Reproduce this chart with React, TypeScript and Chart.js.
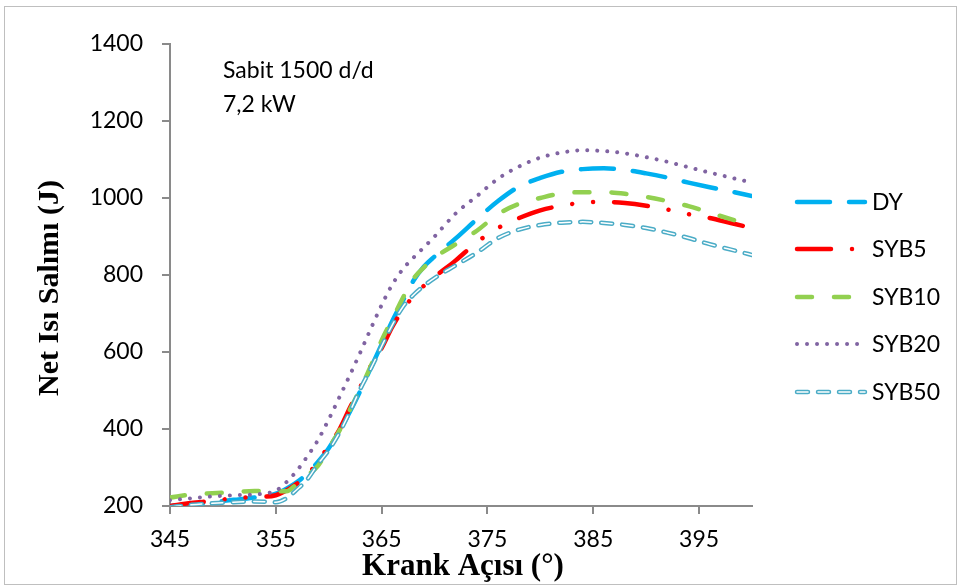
import React, { useEffect, useRef } from "react";
import { Chart, registerables } from "chart.js";

Chart.register(...registerables);

// Crank angle (°)
const angles = [345, 347, 349, 351, 353, 355, 356, 357, 358, 359, 360, 361, 362, 363, 364, 365, 366, 367, 368, 369, 370, 372, 374, 376, 378, 380, 382, 384, 386, 388, 390, 392, 394, 396, 398, 400];

const dyValues = [200, 204, 210, 216, 222, 232, 245, 262, 285, 315, 350, 395, 445, 500, 560, 620, 680, 733, 785, 822, 848, 895, 945, 992, 1030, 1052, 1068, 1075, 1077, 1073, 1064, 1053, 1040, 1028, 1017, 1005];
const syb5Values = [200, 208, 213, 220, 223, 228, 240, 258, 280, 318, 355, 398, 455, 510, 565, 610, 665, 710, 745, 772, 795, 838, 885, 922, 948, 968, 980, 988, 990, 987, 980, 970, 958, 948, 935, 922];
const syb10Values = [222, 230, 233, 236, 239, 238, 238, 258, 280, 305, 350, 395, 450, 505, 565, 630, 685, 740, 790, 820, 845, 880, 915, 958, 985, 1000, 1012, 1015, 1015, 1011, 1003, 992, 979, 962, 945, 928];
const syb20Values = [215, 220, 225, 228, 230, 240, 262, 292, 330, 372, 425, 482, 540, 600, 662, 722, 775, 815, 845, 872, 900, 960, 1005, 1050, 1082, 1105, 1118, 1124, 1122, 1116, 1106, 1094, 1080, 1066, 1053, 1040];
const syb50Values = [197, 203, 207, 210, 212, 210, 220, 243, 270, 310, 345, 390, 445, 505, 558, 615, 670, 717, 748, 772, 792, 825, 858, 896, 918, 930, 936, 938, 935, 930, 922, 910, 896, 880, 866, 852];

const xTicks = [345, 355, 365, 375, 385, 395];
const yTicks = [200, 400, 600, 800, 1000, 1200, 1400];

const seriesLabels = ["DY", "SYB5", "SYB10", "SYB20", "SYB50"];
const noteLines = ["Sabit 1500 d/d", "7,2 kW"];
const xTitle = "Krank Açısı (°)";
const yTitle = "Net Isı Salımı (J)";

const toPts = (vals: number[]) => angles.map((a, i) => ({ x: a, y: vals[i] }));

const SANS = "Lato, 'Open Sans', sans-serif";
const SERIF = "'Liberation Serif', 'Times New Roman', serif";
const AXIS = "#8a8a8a";

type LegendStyle = { color: string; width: number; dash: number[]; hollow?: boolean };
const legendStyles: LegendStyle[] = [
  { color: "#00B0F0", width: 4.5, dash: [33, 19] },
  { color: "#FF0000", width: 4.5, dash: [34, 21, 0.01, 21, 0.01, 21] },
  { color: "#92D050", width: 4.5, dash: [15, 22] },
  { color: "#8064A2", width: 4, dash: [0.01, 10] },
  { color: "#4BACC6", width: 4.5, dash: [11, 10], hollow: true },
];

const textPlugin = {
  id: "textPlugin",
  afterDraw(chart: any) {
    const ctx = chart.ctx as CanvasRenderingContext2D;
    ctx.save();
    // annotation
    ctx.fillStyle = "#000";
    ctx.font = `23px ${SANS}`;
    ctx.textAlign = "left";
    ctx.textBaseline = "alphabetic";
    ctx.fillText(noteLines[0], 223, 78);
    ctx.fillText(noteLines[1], 223, 112);

    // x title
    ctx.font = `bold 31px ${SERIF}`;
    ctx.textAlign = "center";
    ctx.fillText(xTitle, 463, 575);

    // y title
    ctx.save();
    ctx.translate(58, 288);
    ctx.rotate(-Math.PI / 2);
    ctx.font = `bold 30px ${SERIF}`;
    ctx.textAlign = "center";
    ctx.textBaseline = "alphabetic";
    ctx.fillText(yTitle, 0, 0);
    ctx.restore();

    // legend
    const ys = [202, 249, 297, 344, 392];
    legendStyles.forEach((st, i) => {
      const y = ys[i];
      ctx.lineCap = "round";
      ctx.setLineDash(st.dash);
      ctx.lineDashOffset = 0;
      ctx.strokeStyle = st.color;
      ctx.lineWidth = st.width;
      ctx.beginPath();
      ctx.moveTo(797, y);
      ctx.lineTo(865, y);
      ctx.stroke();
      if (st.hollow) {
        ctx.strokeStyle = "#ffffff";
        ctx.lineWidth = 1.5;
        ctx.beginPath();
        ctx.moveTo(797, y);
        ctx.lineTo(865, y);
        ctx.stroke();
      }
      ctx.setLineDash([]);
      ctx.fillStyle = "#000";
      ctx.font = `23px ${SANS}`;
      ctx.textAlign = "left";
      ctx.textBaseline = "middle";
      ctx.fillText(seriesLabels[i], 872, y + 1);
    });
    ctx.restore();
  },
};

export default function App() {
  const ref = useRef<HTMLCanvasElement | null>(null);
  useEffect(() => {
    if (!ref.current) return;
    const common = { pointRadius: 0, pointHoverRadius: 0, borderCapStyle: "round", borderJoinStyle: "round", cubicInterpolationMode: "monotone", fill: false };
    const chart = new Chart(ref.current, {
      type: "line",
      data: {
        datasets: [
          { ...common, label: seriesLabels[0], data: toPts(dyValues), borderColor: legendStyles[0].color, borderWidth: legendStyles[0].width, borderDash: legendStyles[0].dash, order: 6 },
          { ...common, label: seriesLabels[1], data: toPts(syb5Values), borderColor: legendStyles[1].color, borderWidth: legendStyles[1].width, borderDash: legendStyles[1].dash, order: 5 },
          { ...common, label: seriesLabels[2], data: toPts(syb10Values), borderColor: legendStyles[2].color, borderWidth: legendStyles[2].width, borderDash: legendStyles[2].dash, order: 4 },
          { ...common, label: seriesLabels[3], data: toPts(syb20Values), borderColor: legendStyles[3].color, borderWidth: legendStyles[3].width, borderDash: legendStyles[3].dash, order: 3 },
          { ...common, label: seriesLabels[4], data: toPts(syb50Values), borderColor: legendStyles[4].color, borderWidth: legendStyles[4].width, borderDash: legendStyles[4].dash, order: 2 },
          { ...common, label: seriesLabels[4] + "_inner", data: toPts(syb50Values), borderColor: "#ffffff", borderWidth: 1.5, borderDash: legendStyles[4].dash, order: 1 },
        ] as any,
      },
      options: {
        responsive: false,
        animation: false,
        events: [],
        layout: { padding: { left: 0, right: 205, top: 44, bottom: 0 } },
        plugins: { legend: { display: false }, tooltip: { enabled: false }, title: { display: false } },
        scales: {
          x: {
            type: "linear",
            min: 345,
            max: 400,
            afterBuildTicks: (s: any) => {
              s.ticks = xTicks.map((v) => ({ value: v }));
            },
            afterFit: (s: any) => {
              s.height = 82;
            },
            grid: { drawOnChartArea: false, drawTicks: true, tickLength: 8, color: AXIS, lineWidth: 2 },
            border: { color: AXIS, width: 2 },
            ticks: { color: "#000", font: { family: SANS, size: 23 }, padding: 12, maxRotation: 0, autoSkip: false, callback: (v: any) => String(v) },
          },
          y: {
            type: "linear",
            min: 200,
            max: 1400,
            afterBuildTicks: (s: any) => {
              s.ticks = yTicks.map((v) => ({ value: v }));
            },
            afterFit: (s: any) => {
              s.width = 170;
            },
            grid: { drawOnChartArea: false, drawTicks: true, tickLength: 8, color: AXIS, lineWidth: 2 },
            border: { color: AXIS, width: 2 },
            ticks: { color: "#000", font: { family: SANS, size: 23 }, padding: 19, callback: (v: any) => String(v) },
          },
        },
      } as any,
      plugins: [textPlugin],
    });
    return () => chart.destroy();
  }, []);

  return (
    <div style={{ position: "absolute", left: 0, top: 0, width: 957, height: 588, background: "#fff" }}>
      <div style={{ position: "absolute", left: 4, top: 6, width: 951, height: 577, border: "1px solid #bfbfbf" }} />
      <canvas ref={ref} width={957} height={588} style={{ position: "absolute", left: 0, top: 0, width: 957, height: 588 }} />
    </div>
  );
}
